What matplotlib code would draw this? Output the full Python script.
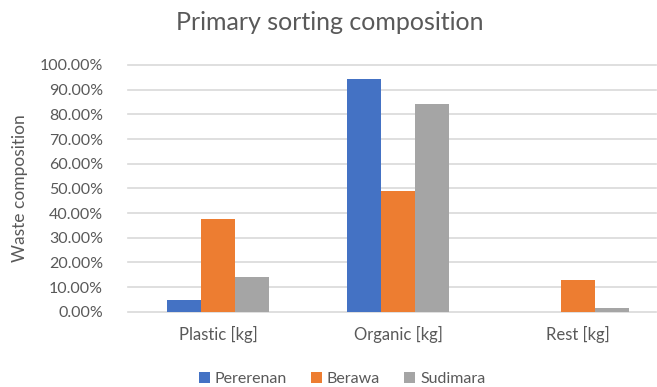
import matplotlib.pyplot as plt
import numpy as np
from matplotlib.ticker import FuncFormatter

plt.rcParams['font.family'] = ['Lato', 'DejaVu Sans']

categories = ['Plastic [kg]', 'Organic [kg]', 'Rest [kg]']
sites = ['Pererenan', 'Berawa', 'Sudimara']
pererenan = [4.7, 94.5, 0.0]
berawa = [37.6, 48.9, 13.0]
sudimara = [14.1, 84.2, 1.6]
colors = ['#4472C4', '#ED7D31', '#A5A5A5']
text_color = '#595959'

W, H = 657, 387
fig = plt.figure(figsize=(W / 100, H / 100), dpi=100)
ax = fig.add_axes([128 / W, (H - 311.7) / H, 528 / W, (311.7 - 65) / H])

x = np.arange(len(categories))
width = 0.19
for i, (vals, name) in enumerate(zip([pererenan, berawa, sudimara], sites)):
    ax.bar(x + (i - 1) * width, np.array(vals) / 100, width,
           color=colors[i], label=name, zorder=3)

ax.set_xlim(-0.5, -0.5 + 528 / 180)
ax.set_ylim(0, 1.0)
ax.set_yticks(np.arange(0, 1.01, 0.1))
ax.yaxis.set_major_formatter(FuncFormatter(lambda v, p: f'{v * 100:.2f}%'))
for yv in np.arange(0, 1.01, 0.1):
    ax.axhline(yv, color='#D9D9D9', lw=1.2, zorder=1, clip_on=False)

ax.set_xticks(x)
ax.set_xticklabels(categories)
ax.tick_params(axis='both', length=0, colors=text_color)
ax.tick_params(axis='y', pad=18, labelsize=11.5)
ax.tick_params(axis='x', pad=10, labelsize=12)
for s in ax.spines.values():
    s.set_visible(False)

ax.set_ylabel('Waste composition', fontsize=12.5, color=text_color)
ax.yaxis.set_label_coords(-100 / 528, 0.5)

fig.text(330 / W, 1 - 22 / H, 'Primary sorting composition', ha='center',
         va='center', fontsize=18, color=text_color)

fig.legend(loc='center', bbox_to_anchor=(342 / W, 1 - 379 / H), ncol=3,
           frameon=False, fontsize=11.5, labelcolor=text_color,
           handlelength=0.7, handleheight=0.7, handletextpad=0.3,
           columnspacing=1.5)

fig.savefig('out.png', dpi=100)
